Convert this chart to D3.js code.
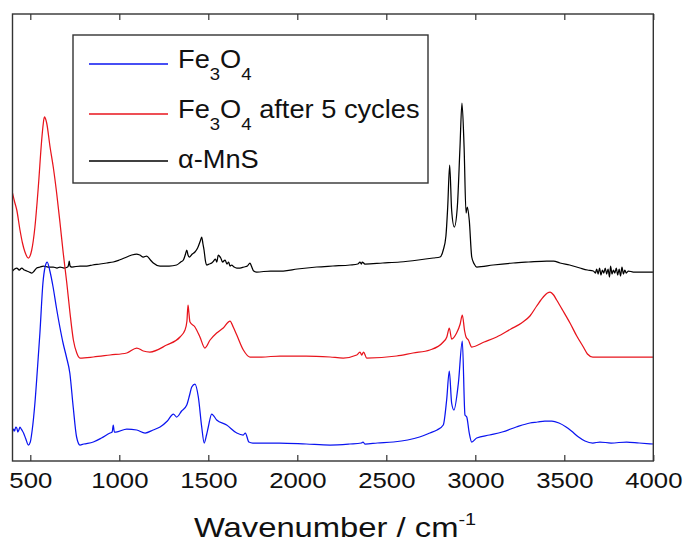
<!DOCTYPE html>
<html>
<head>
<meta charset="utf-8">
<script src="https://cdn.jsdelivr.net/npm/d3@7"></script>
<style>
  html, body { margin: 0; padding: 0; background: #fff; }
  svg { display: block; }
  text { font-family: "Liberation Sans", Arial, sans-serif; fill: #111; }
</style>
</head>
<body>
<svg id="chart" width="686" height="542"></svg>
<script>
// ---------------- data (wavenumber cm^-1, absorbance a.u. incl. vertical offset) ----------------
const fe3o4 = [[400,29],[406,32],[412,30],[418,34],[424,33],[430,29],[436,31],[442,34],[449,32],[456,30],[462,28],[475,22],[489,16],[500,19],[510,30],[526,58],[540,92],[554,128],[571,178],[583,194],[595,199],[610,190],[628,174],[647,153],[666,134],[684,118],[703,104],[722,88],[741,54],[760,24],[779,16],[800,17],[854,19],[900,23],[948,28],[960,29],[966,36],[972,29],[981,29],[1042,32],[1098,31],[1145,28],[1190,31],[1229,34],[1270,40],[1304,47],[1322,44],[1350,50],[1379,56],[1395,66],[1407,74],[1425,77],[1444,64],[1463,34],[1477,18],[1490,26],[1500,34],[1519,47],[1547,41],[1603,36],[1660,28],[1696,26],[1708,28],[1728,19],[1750,18],[1806,18],[1900,18],[2050,17],[2184,16],[2295,17],[2360,18],[2369,19],[2380,17],[2450,18],[2540,19],[2620,21],[2687,24],[2745,28],[2785,31],[2820,36],[2839,61],[2854,90],[2867,58],[2880,51],[2905,78],[2927,120],[2942,46],[2952,44],[2966,28],[2980,19],[3008,23],[3080,26],[3151,29],[3230,34],[3307,38],[3350,39],[3390,40],[3430,40],[3470,38],[3510,34],[3540,30],[3580,24],[3616,20],[3660,18],[3700,19],[3763,18],[3850,19],[3920,18],[4000,17]];

const fe3o4Cycled = [[400,268],[412,259],[424,251],[442,231],[456,218],[470,209],[489,203],[508,211],[526,234],[545,274],[564,321],[572,336],[579,344],[586,342],[592,338],[611,314],[629,294],[648,268],[667,238],[685,208],[705,178],[723,148],[742,121],[761,108],[779,103],[854,104],[948,106],[1042,108],[1098,113],[1135,110],[1172,109],[1266,116],[1341,124],[1369,131],[1380,140],[1386,156],[1390,150],[1397,139],[1425,134],[1453,124],[1481,113],[1510,121],[1547,128],[1584,133],[1622,140],[1640,134],[1660,126],[1697,111],[1734,104],[1800,104],[1903,105],[2050,105],[2184,104],[2258,103],[2334,106],[2352,109],[2362,106],[2372,109],[2390,103],[2558,105],[2650,108],[2745,111],[2820,119],[2840,124],[2854,133],[2867,122],[2895,128],[2915,137],[2927,146],[2940,130],[2948,124],[2961,121],[2980,114],[3050,119],[3120,124],[3200,132],[3260,138],[3307,145],[3345,155],[3382,164],[3405,168],[3420,169],[3440,166],[3457,161],[3490,151],[3532,138],[3570,125],[3607,114],[3630,107],[3660,104],[3700,104],[3775,104],[3900,104],[4000,104]];

const mns = [[400,190],[412,192],[424,193],[438,191],[452,193],[466,191],[480,190],[494,189],[508,188],[522,190],[536,193],[555,194],[573,195],[600,194],[629,194],[650,193],[667,194],[690,193],[710,194],[716,197],[719,200],[723,195],[733,194],[780,195],[817,195],[850,196],[892,197],[930,198],[966,199],[1000,201],[1042,204],[1070,206],[1098,207],[1115,206],[1135,204],[1154,205],[1175,201],[1191,198],[1229,195],[1280,195],[1322,196],[1345,199],[1360,201],[1372,207],[1379,211],[1386,206],[1393,204],[1410,207],[1425,209],[1440,213],[1455,220],[1463,224],[1470,217],[1476,211],[1484,200],[1491,196],[1505,197],[1519,198],[1530,200],[1540,202],[1548,199],[1556,206],[1562,205],[1570,203],[1580,199],[1594,201],[1605,197],[1614,199],[1622,195],[1631,196],[1645,194],[1660,193],[1678,193],[1700,194],[1720,195],[1734,198],[1742,195],[1755,190],[1772,189],[1850,190],[1921,190],[2000,192],[2109,194],[2200,195],[2296,196],[2340,197],[2352,199],[2360,197],[2365,199],[2380,197],[2480,198],[2577,199],[2680,201],[2764,203],[2802,204],[2820,211],[2835,225],[2845,254],[2856,296],[2867,251],[2882,234],[2899,254],[2914,314],[2925,358],[2937,314],[2948,248],[2955,254],[2966,241],[2980,204],[2994,197],[3008,194],[3100,196],[3213,198],[3300,199],[3401,200],[3440,200],[3476,198],[3530,196],[3588,193],[3630,191],[3663,190],[3675,188],[3682,192],[3690,187],[3698,193],[3706,186],[3714,191],[3722,188],[3730,193],[3738,187],[3746,192],[3754,184],[3760,195],[3768,187],[3776,191],[3784,188],[3792,193],[3800,186],[3808,192],[3816,185],[3824,194],[3832,187],[3840,191],[3848,188],[3860,190],[3888,189],[3950,189],[4000,189]];

const xTicks = [500, 1000, 1500, 2000, 2500, 3000, 3500, 4000];
const xDomain = [400, 4000];
const yDomain = [0, 447];
const seriesLabels = ["Fe3O4", "Fe3O4 after 5 cycles", "α-MnS"];
const xTitle = "Wavenumber / cm";
const xTitleSup = "-1";

// ---------------- layout ----------------
const plot = { left: 12.5, right: 653.3, top: 14, bottom: 461 };
const colors = ["#0a14f0", "#e8141c", "#000000"];

const svg = d3.select("#chart");
const x = d3.scaleLinear().domain(xDomain).range([plot.left, plot.right]);
const y = d3.scaleLinear().domain(yDomain).range([plot.bottom, plot.top]);

svg.append("defs").append("clipPath").attr("id", "clip")
  .append("rect")
  .attr("x", plot.left).attr("y", plot.top)
  .attr("width", plot.right - plot.left).attr("height", plot.bottom - plot.top);

const line = d3.line().x(d => x(d[0])).y(d => y(d[1])).curve(d3.curveMonotoneX);

const g = svg.append("g").attr("clip-path", "url(#clip)");
[mns, fe3o4Cycled, fe3o4].forEach((s, i) => {
  const ci = [2, 1, 0][i];
  g.append("path").datum(s)
    .attr("d", line)
    .attr("fill", "none")
    .attr("stroke", colors[ci])
    .attr("stroke-width", 1.25)
    .attr("stroke-linejoin", "round");
});

// axes (inward ticks, bottom labelled, top unlabelled)
const axB = svg.append("g").attr("transform", `translate(0,${plot.bottom})`)
  .call(d3.axisBottom(x).tickValues(xTicks).tickSizeInner(-6).tickSizeOuter(0).tickPadding(0).tickFormat(d3.format("d")));
axB.select(".domain").remove();
axB.selectAll(".tick line").attr("stroke", "#333").attr("stroke-width", 1.2);
axB.selectAll(".tick text").remove();
axB.selectAll(".tick").append("text")
  .attr("transform", "translate(0,27) scale(1.12,1)")
  .attr("text-anchor", "middle")
  .attr("font-size", 23)
  .attr("fill", "#111")
  .text(d => d);

const axT = svg.append("g").attr("transform", `translate(0,${plot.top})`)
  .call(d3.axisTop(x).tickValues(xTicks).tickSizeInner(-6).tickSizeOuter(0).tickFormat(""));
axT.select(".domain").remove();
axT.selectAll(".tick line").attr("stroke", "#333").attr("stroke-width", 1.2);

// frame
svg.append("rect")
  .attr("x", plot.left).attr("y", plot.top)
  .attr("width", plot.right - plot.left).attr("height", plot.bottom - plot.top)
  .attr("fill", "none").attr("stroke", "#333").attr("stroke-width", 1.4);

// x axis title
const tt = svg.append("text")
  .attr("transform", "translate(335,537) scale(1.17,1)")
  .attr("text-anchor", "middle")
  .attr("font-size", 28);
tt.append("tspan").text(xTitle);
tt.append("tspan").attr("font-size", 17).attr("dy", -12).text(xTitleSup);

// legend
const leg = svg.append("g");
leg.append("rect").attr("x", 73).attr("y", 35).attr("width", 355).attr("height", 148)
  .attr("fill", "#fff").attr("stroke", "#333").attr("stroke-width", 1.4);
const rowLineY = [64, 114, 161];
const rowTextY = [68, 118, 168];
seriesLabels.forEach((lab, i) => {
  leg.append("line").attr("x1", 89).attr("x2", 168)
    .attr("y1", rowLineY[i]).attr("y2", rowLineY[i])
    .attr("stroke", colors[i]).attr("stroke-width", 1.3);
  const t = leg.append("text")
    .attr("transform", `translate(178,${rowTextY[i]}) scale(1.09,1)`)
    .attr("font-size", 25);
  if (lab.startsWith("Fe3O4")) {
    t.append("tspan").text("Fe");
    t.append("tspan").attr("font-size", 17).attr("dy", 12).text("3");
    t.append("tspan").attr("dy", -12).text("O");
    t.append("tspan").attr("font-size", 17).attr("dy", 12).text("4");
    const rest = lab.slice(5);
    if (rest) t.append("tspan").attr("dy", -12).text(rest);
  } else {
    t.text(lab);
  }
});
</script>
</body>
</html>
